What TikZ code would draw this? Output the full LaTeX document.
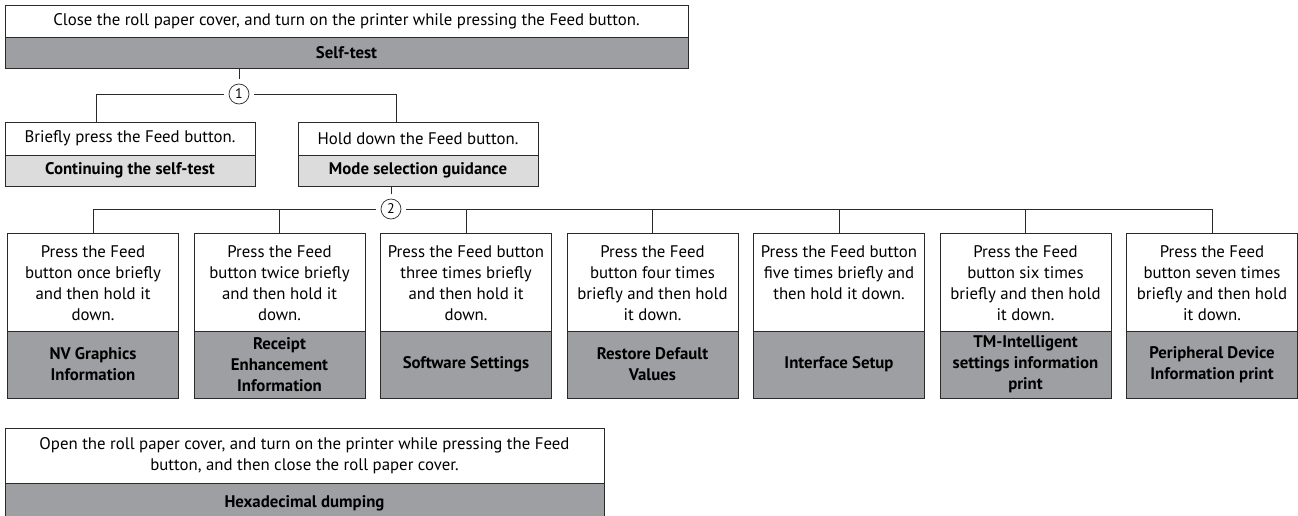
\documentclass[tikz,border=0pt]{standalone}
\usepackage{fontspec}
\setmainfont{PT Sans}
\definecolor{darkfill}{HTML}{9E9FA2}
\definecolor{lightfill}{HTML}{DCDCDD}
\definecolor{edge}{HTML}{2A2A2A}
\begin{document}
\begin{tikzpicture}[x=1pt,y=-1pt,
  part/.style={draw=edge, line width=1pt, inner sep=0pt, outer sep=0pt, anchor=north west},
  wpart/.style={part, fill=white},
  dpart/.style={part, fill=darkfill},
  lpart/.style={part, fill=lightfill},
  txt/.style={font=\fontsize{16.8}{21}\selectfont, align=center, inner sep=0pt},
  btxt/.style={font=\fontsize{16.8}{21}\selectfont\bfseries, align=center, inner sep=0pt},
  num/.style={draw=edge, line width=0.7pt, circle, minimum size=20pt, inner sep=0pt, outer sep=5pt, fill=white, font=\fontsize{14}{14}\selectfont},
  link/.style={draw=edge, line width=1pt}]
\useasboundingbox (0,0) rectangle (1298,515);

% top box
\node[wpart, minimum width=683pt, minimum height=32pt] (topw) at (5,5) {};
\node[txt] (topt) at (topw.center) {Close the roll paper cover, and turn on the printer while pressing the Feed button.};
\node[dpart, minimum width=683pt, minimum height=31pt] (selftest) at (5,37) {};
\node[btxt] (selftestt) at (selftest.center) {Self-test};

% circle 1
\node[num] (c1) at (239,94) {1};
\coordinate (j1l) at (96,94);
\coordinate (j1r) at (396,94);

% row 1
\node[wpart, minimum width=250pt, minimum height=33pt] (bw) at (5,122) {};
\node[txt] (bwt) at (bw.center) {Briefly press the Feed button.};
\node[lpart, minimum width=250pt, minimum height=31pt] (bg) at (5,155) {};
\node[btxt] (bgt) at (bg.center) {Continuing the self-test};

\node[wpart, minimum width=240pt, minimum height=33pt] (hw) at (298,122) {};
\node[txt] (hwt) at (hw.center) {Hold down the Feed button.};
\node[lpart, minimum width=240pt, minimum height=31pt] (hg) at (298,155) {};
\node[btxt] (hgt) at (hg.center) {Mode selection guidance};

\draw[link] (c1 |- selftest.south) -- (c1.north);
\draw[link] (c1.west) -- (j1l) -- (j1l |- bw.north);
\draw[link] (c1.east) -- (j1r) -- (j1r |- hw.north);

% circle 2
\node[num] (c2) at (391,209) {2};
\draw[link] (c2 |- hg.south) -- (c2.north);

% columns
\foreach \k/\wt/\gt in {
  1/{Press the Feed\\button once briefly\\and then hold it\\down.}/{NV Graphics\\Information},
  2/{Press the Feed\\button twice briefly\\and then hold it\\down.}/{Receipt\\Enhancement\\Information},
  3/{Press the Feed button\\three times briefly\\and then hold it\\down.}/{Software Settings},
  4/{Press the Feed\\button four times\\briefly and then hold\\it down.}/{Restore Default\\Values},
  5/{Press the Feed button\\five times briefly and\\then hold it down.}/{Interface Setup},
  6/{Press the Feed\\button six times\\briefly and then hold\\it down.}/{TM-Intelligent\\settings information\\print},
  7/{Press the Feed\\button seven times\\briefly and then hold\\it down.}/{Peripheral Device\\Information print}}{
  \pgfmathsetmacro{\lx}{93+186.5*(\k-1)-85.5}
  \node[wpart, minimum width=171pt, minimum height=98pt] (w\k) at (\lx,233) {};
  \node[txt, anchor=north] (wt\k) at ([yshift=-12pt]w\k.north) {\wt};
  \node[dpart, minimum width=171pt, minimum height=67pt] (g\k) at (\lx,331) {};
  \node[btxt] (gt\k) at (g\k.center) {\gt};
}
\draw[link] (w1.north) |- (c2.west);
\draw[link] (w7.north) |- (c2.east);
\foreach \k in {2,...,6}{
  \draw[link] (w\k.north) -- (w\k.north |- c2.center);
}

% bottom box
\node[wpart, minimum width=599pt, minimum height=55pt] (hexw) at (5,428) {};
\node[txt] (hexwt) at (hexw.center) {Open the roll paper cover, and turn on the printer while pressing the Feed\\button, and then close the roll paper cover.};
\node[dpart, minimum width=599pt, minimum height=40pt] (hexg) at (5,483) {};
\node[btxt] (hexgt) at ([yshift=-20pt]hexg.north) {Hexadecimal dumping};
\end{tikzpicture}
\end{document}
